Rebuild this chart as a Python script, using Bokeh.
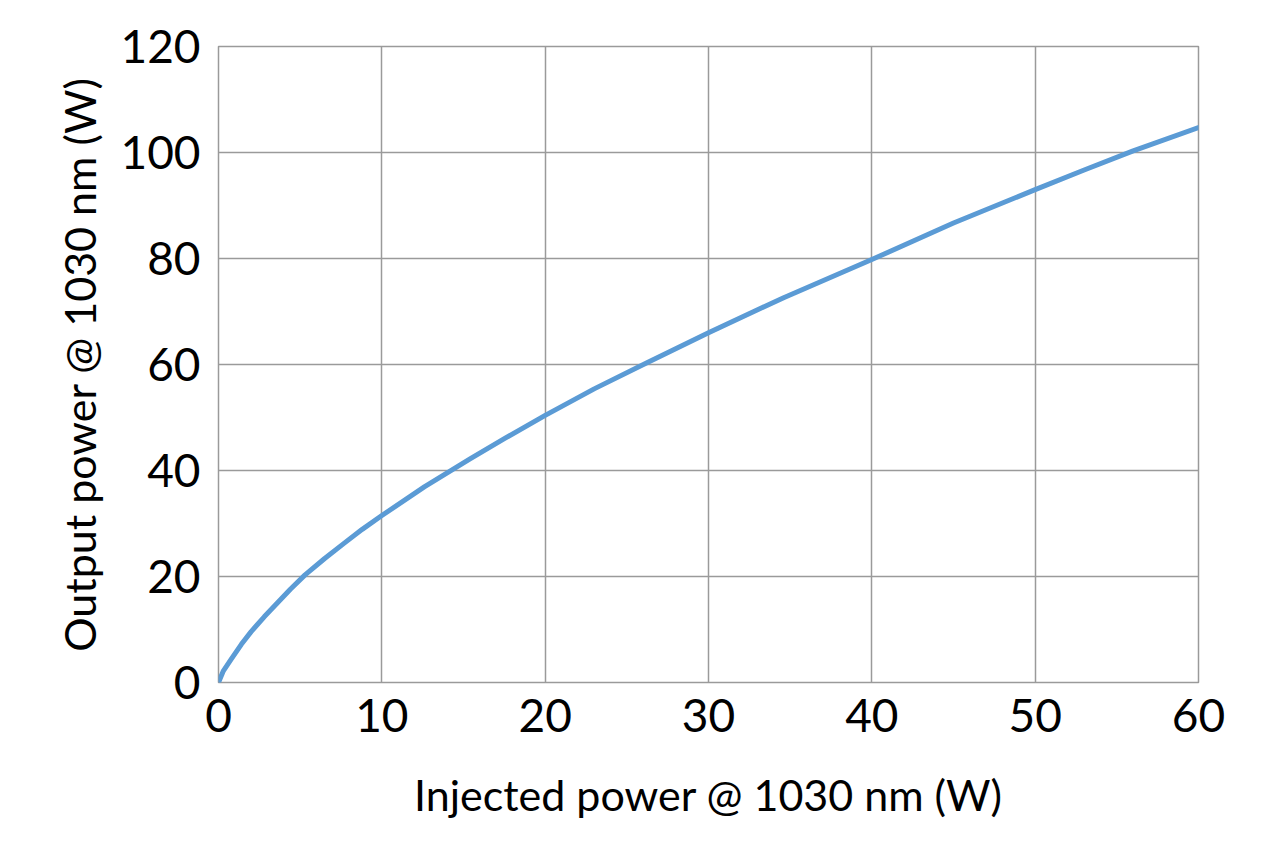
from bokeh.plotting import figure
from bokeh.models import FixedTicker, Range1d
from bokeh.embed import file_html
from bokeh.resources import INLINE

injected = [0, 0.3, 0.8, 1.4, 2, 2.8, 3.6, 4.4, 5.3, 6.5, 7.7, 8.8, 10, 12.6, 15.4, 17.5, 20, 23, 26.2, 30,
            34.6, 40, 45, 50, 53, 56, 60]
output = [0, 2.2, 4.5, 7.2, 9.6, 12.4, 15.0, 17.6, 20.3, 23.4, 26.3, 28.9, 31.5, 36.9, 42.2, 46.0, 50.4, 55.4,
          60.3, 66, 72.6, 79.8, 86.7, 93.0, 96.7, 100.3, 104.7]
x_ticks = [0, 10, 20, 30, 40, 50, 60]
y_ticks = [0, 20, 40, 60, 80, 100, 120]

FONT = "Lato"

p = figure(width=1280, height=863, output_backend="svg", toolbar_location=None,
           x_range=Range1d(0, 60), y_range=Range1d(0, 120),
           min_border_left=218, min_border_right=82, min_border_top=46, min_border_bottom=181)

p.line(injected, output, line_color="#5B9BD5", line_width=5, line_join="round", line_cap="round")

for ax, ticks in ((p.xaxis[0], x_ticks), (p.yaxis[0], y_ticks)):
    ax.ticker = FixedTicker(ticks=ticks)
    ax.axis_line_color = None
    ax.major_tick_line_color = None
    ax.minor_tick_line_color = None
    ax.major_label_text_font = FONT
    ax.major_label_text_font_size = "46px"
    ax.major_label_text_color = "black"
    ax.axis_label_text_font = FONT
    ax.axis_label_text_font_style = "normal"
    ax.axis_label_text_color = "black"

p.xaxis.axis_label = "Injected power @ 1030 nm (W)"
p.yaxis.axis_label = "Output power @ 1030 nm (W)"
p.xaxis.axis_label_text_font_size = "43px"
p.yaxis.axis_label_text_font_size = "43px"
p.xaxis.major_label_standoff = 10
p.yaxis.major_label_standoff = 12
p.xaxis.axis_label_standoff = 34
p.yaxis.axis_label_standoff = 12

p.xgrid.grid_line_color = "#9a9a9a"
p.ygrid.grid_line_color = "#9a9a9a"
p.xgrid.grid_line_width = 1.5
p.ygrid.grid_line_width = 1.5
p.outline_line_color = "#9a9a9a"
p.outline_line_width = 1.5

open("out.html", "w").write(file_html(p, INLINE))
